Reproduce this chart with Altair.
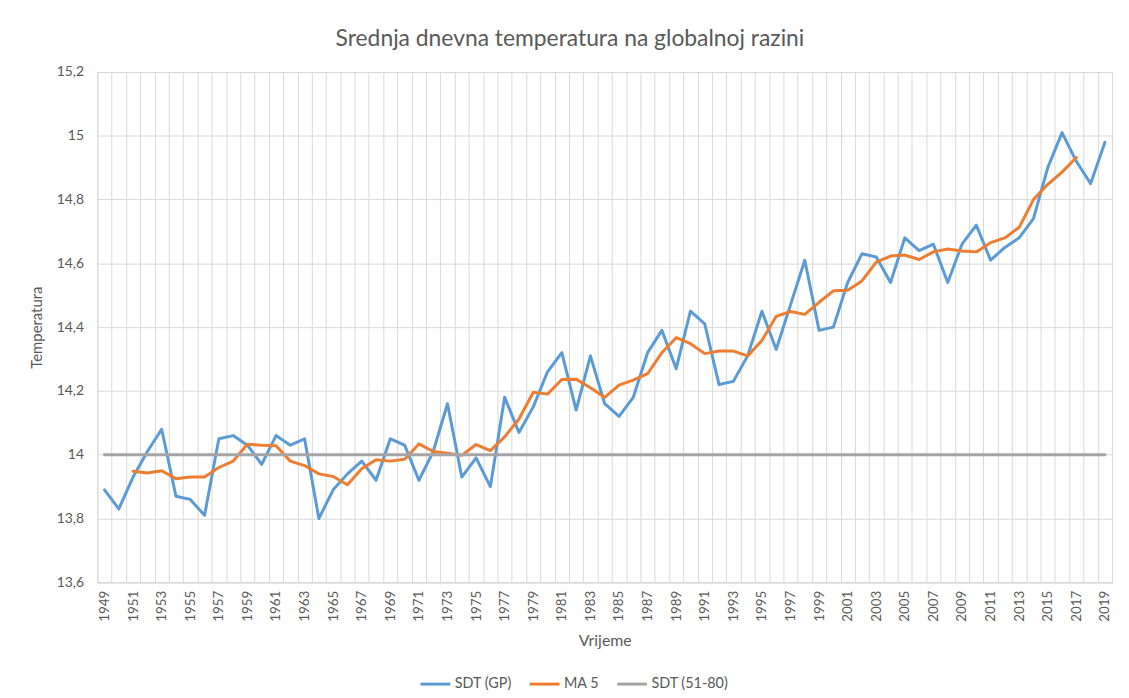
import altair as alt
import pandas as pd

years = list(range(1949, 2020))

sdt_gp = [13.89, 13.83, 13.93, 14.01, 14.08, 13.87, 13.86, 13.81, 14.05, 14.06,
          14.03, 13.97, 14.06, 14.03, 14.05, 13.80, 13.89, 13.94, 13.98, 13.92,
          14.05, 14.03, 13.92, 14.01, 14.16, 13.93, 13.99, 13.90, 14.18, 14.07,
          14.15, 14.26, 14.32, 14.14, 14.31, 14.16, 14.12, 14.18, 14.32, 14.39,
          14.27, 14.45, 14.41, 14.22, 14.23, 14.31, 14.45, 14.33, 14.47, 14.61,
          14.39, 14.40, 14.54, 14.63, 14.62, 14.54, 14.68, 14.64, 14.66, 14.54,
          14.66, 14.72, 14.61, 14.65, 14.68, 14.74, 14.90, 15.01, 14.92, 14.85,
          14.98]

ma5_years = list(range(1951, 2018))
ma5 = [13.948, 13.943, 13.950, 13.925, 13.930, 13.930, 13.960, 13.980, 14.033, 14.030,
       14.028, 13.980, 13.966, 13.940, 13.932, 13.906, 13.956, 13.984, 13.980, 13.986,
       14.034, 14.010, 14.005, 13.998, 14.032, 14.013, 14.056, 14.112, 14.196, 14.190,
       14.236, 14.237, 14.210, 14.180, 14.218, 14.234, 14.254, 14.320, 14.367, 14.348,
       14.317, 14.325, 14.325, 14.310, 14.358, 14.434, 14.449, 14.440, 14.478, 14.514,
       14.516, 14.545, 14.604, 14.623, 14.626, 14.612, 14.636, 14.645, 14.639, 14.636,
       14.665, 14.680, 14.713, 14.800, 14.848, 14.886, 14.932]

sdt_51_80 = [14.0] * len(years)

series_names = ["SDT (GP)", "MA 5", "SDT (51-80)"]
series_colors = ["#5B9BD5", "#ED7D31", "#A5A5A5"]
y_ticks = [13.6, 13.8, 14.0, 14.2, 14.4, 14.6, 14.8, 15.0, 15.2]

df = pd.concat([
    pd.DataFrame({"year": years, "value": sdt_gp, "series": series_names[0]}),
    pd.DataFrame({"year": ma5_years, "value": ma5, "series": series_names[1]}),
    pd.DataFrame({"year": years, "value": sdt_51_80, "series": series_names[2]}),
], ignore_index=True)

FONT = "Lato"
TXT = "#595959"
GRID = "#D9D9D9"

x_enc = alt.X(
    "year:O",
    scale=alt.Scale(type="band", paddingInner=0, paddingOuter=0, domain=years),
    axis=alt.Axis(
        title="Vrijeme",
        labelAngle=-90,
        labelExpr="datum.value % 2 == 1 ? datum.label : ''",
        labelOverlap=False,
        labelPadding=8,
        labelFontSize=13.5,
        labelColor=TXT,
        labelFont=FONT,
        tickBand="extent",
        ticks=False,
        grid=True,
        gridColor=GRID,
        domainColor=GRID,
        titleFont=FONT,
        titleFontSize=16,
        titleFontWeight="normal",
        titleColor=TXT,
        titlePadding=11,
    ),
)

y_enc = alt.Y(
    "value:Q",
    scale=alt.Scale(domain=[13.6, 15.2], nice=False, zero=False),
    axis=alt.Axis(
        title="Temperatura",
        values=y_ticks,
        labelExpr="replace(format(datum.value, '.1~f'), '.', ',')",
        labelPadding=14,
        labelFontSize=14,
        labelColor=TXT,
        labelFont=FONT,
        ticks=False,
        domain=False,
        grid=True,
        gridColor=GRID,
        titleFont=FONT,
        titleFontSize=15,
        titleFontWeight="normal",
        titleColor=TXT,
        titlePadding=12,
    ),
)

color_enc = alt.Color(
    "series:N",
    scale=alt.Scale(domain=series_names, range=series_colors),
    legend=alt.Legend(
        title=None,
        orient="none",
        direction="horizontal",
        legendX=324,
        legendY=600,
        symbolType="stroke",
        symbolSize=900,
        symbolStrokeWidth=3,
        labelFont=FONT,
        labelFontSize=14.5,
        labelColor=TXT,
        labelOffset=3,
        columnPadding=11,
    ),
)

def layer(name):
    return alt.Chart(df).transform_filter(
        alt.datum.series == name
    ).mark_line(strokeWidth=3, strokeJoin="round", strokeCap="round").encode(
        x=x_enc, y=y_enc, color=color_enc
    )

chart = alt.layer(*[layer(n) for n in series_names]).properties(
    width=1022,
    height=514,
    title=alt.TitleParams(
        text="Srednja dnevna temperatura na globalnoj razini",
        font=FONT,
        fontSize=23,
        fontWeight="normal",
        color=TXT,
        anchor="middle",
        offset=14,
        dx=-35,
    ),
    autosize=alt.AutoSizeParams(type="none"),
    padding={"left": 90, "top": 62, "right": 9, "bottom": 106},
).configure_view(strokeOpacity=0).configure(background="white")

chart.save("out.html", embed_options={"renderer": "svg", "actions": False})
